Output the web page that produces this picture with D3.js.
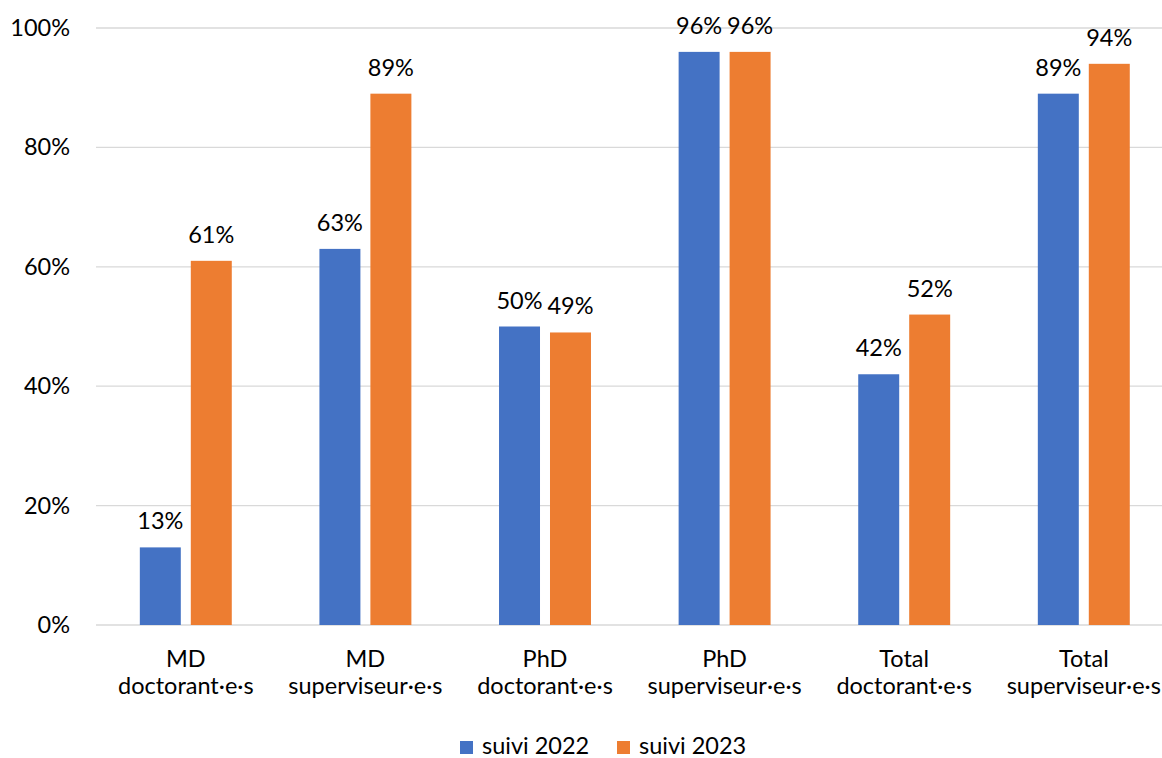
<!DOCTYPE html>
<html>
<head>
<style>
body { margin: 0; background: #fff; }
text { font-family: Lato, "Open Sans", sans-serif; fill: #000; }
</style>
</head>
<body>
<svg width="1162" height="758"></svg>
<script src="https://d3js.org/d3.v7.min.js"></script>
<script>

let categories = [
    ["MD", "doctorant·e·s"],
    ["MD", "superviseur·e·s"],
    ["PhD", "doctorant·e·s"],
    ["PhD", "superviseur·e·s"],
    ["Total", "doctorant·e·s"],
    ["Total", "superviseur·e·s"]
];
let series = ["suivi 2022", "suivi 2023"];
let values2022 = [13, 63, 50, 96, 42, 89];
let values2023 = [61, 89, 49, 96, 52, 94];
let yTicks = [0, 20, 40, 60, 80, 100];
let colors = ["#4472C4", "#ED7D31"];

let svg = d3.select('svg');
let plotLeft = 96, plotRight = 1173.6, plotTop = 28, plotBottom = 625;
let fs = '23.5px';

let data = categories.map(function(c, i) {
    return { key: i, label: c, vals: [values2022[i], values2023[i]] };
});

let x0 = d3.scaleBand()
    .domain(data.map(function(d) { return d.key; }))
    .range([plotLeft, plotRight])
    .paddingInner(0.488)
    .paddingOuter(0.244);

let x1 = d3.scaleBand()
    .domain([0, 1])
    .range([0, x0.bandwidth()])
    .paddingInner(0.196);

let y = d3.scaleLinear().domain([0, 100]).range([plotBottom, plotTop]);

// grid
svg.append('g').selectAll('line').data(yTicks).join('line')
    .attr('x1', plotLeft).attr('x2', 1162)
    .attr('y1', function(d) { return y(d); })
    .attr('y2', function(d) { return y(d); })
    .attr('stroke', '#d9d9d9')
    .attr('stroke-width', 1.3);

let yAxis = d3.axisLeft(y).tickValues(yTicks).tickSize(0).tickPadding(0)
    .tickFormat(function(d) { return d + '%'; });
let ya = svg.append('g').attr('transform', 'translate(70,0)').call(yAxis);
ya.select('.domain').remove();
ya.attr('font-family', null).attr('font-size', null);
ya.selectAll('text').style('font-size', fs);

// bars
let groups = svg.append('g').selectAll('g').data(data).join('g')
    .attr('transform', function(d) { return 'translate(' + x0(d.key) + ',0)'; });

groups.selectAll('rect').data(function(d) { return d.vals; }).join('rect')
    .attr('x', function(d, i) { return x1(i); })
    .attr('y', function(d) { return y(d); })
    .attr('width', x1.bandwidth())
    .attr('height', function(d) { return plotBottom - y(d); })
    .attr('fill', function(d, i) { return colors[i]; });

groups.selectAll('text.val').data(function(d) { return d.vals; }).join('text')
    .attr('class', 'val')
    .attr('x', function(d, i) { return x1(i) + x1.bandwidth() / 2; })
    .attr('y', function(d) { return y(d) - 18; })
    .attr('text-anchor', 'middle')
    .style('font-size', fs)
    .text(function(d) { return d + '%'; });

// category labels
let xa = svg.append('g').selectAll('text').data(data).join('text')
    .attr('x', function(d) { return x0(d.key) + x0.bandwidth() / 2; })
    .attr('y', 667)
    .attr('text-anchor', 'middle')
    .style('font-size', fs);
xa.append('tspan').attr('x', function(d) { return x0(d.key) + x0.bandwidth() / 2; })
    .text(function(d) { return d.label[0]; });
xa.append('tspan').attr('x', function(d) { return x0(d.key) + x0.bandwidth() / 2; })
    .attr('dy', 27)
    .text(function(d) { return d.label[1]; });

// legend
let legendX = [460, 617];
let lg = svg.append('g').selectAll('g').data(series).join('g')
    .attr('transform', function(d, i) { return 'translate(' + legendX[i] + ',741)'; });
lg.append('rect').attr('width', 13).attr('height', 13)
    .attr('fill', function(d, i) { return colors[i]; });
lg.append('text').attr('x', 22).attr('y', 13)
    .style('font-size', fs)
    .text(function(d) { return d; });

</script>
</body>
</html>
